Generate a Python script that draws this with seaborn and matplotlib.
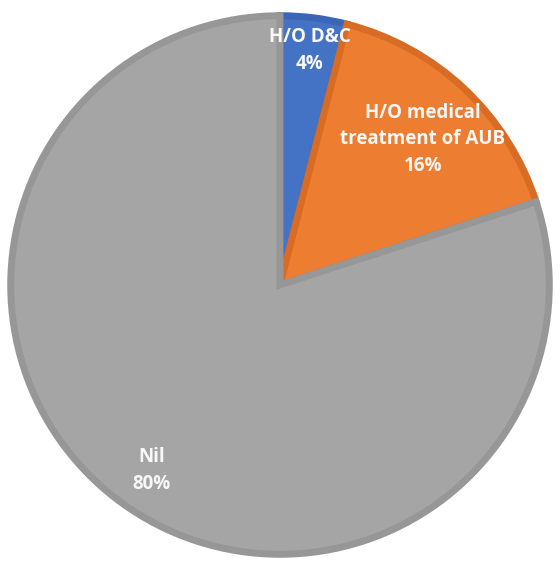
import matplotlib
matplotlib.use("Agg")
import matplotlib.pyplot as plt
import seaborn as sns
import numpy as np

categories = ["H/O D&C", "H/O medical\ntreatment of AUB", "Nil"]
values = [4, 16, 80]
colors = ["#4472C4", "#ED7D31", "#A5A5A5"]
edge_colors = ["#3A66B5", "#D96C25", "#979797"]

sns.set_theme(style="white")
plt.rcParams['font.family'] = ['Open Sans', 'DejaVu Sans']

fig = plt.figure(figsize=(5.6, 5.63), dpi=100)
ax = fig.add_axes([0, 0, 1, 1])

wedges, texts = ax.pie(values, colors=colors, startangle=90, counterclock=False,
                       radius=0.99, center=(0, 0),
                       wedgeprops=dict(linewidth=5, joinstyle="miter"))
for w, ec in zip(wedges, edge_colors):
    w.set_edgecolor(ec)

# label placement (distance and angle from centre, Excel-like best fit)
label_pos = [(0.87, 82.8), (0.75, 45.5), (0.83, 235.3)]
for cat, v, (d, ang) in zip(categories, values, label_pos):
    a = np.deg2rad(ang)
    ax.text(d * np.cos(a), d * np.sin(a), f"{cat}\n{v}%", ha="center", va="center",
            color="#F8F8F8", fontsize=13.5, fontweight="bold", linespacing=1.45)

ax.set_xlim(-280 / 272, 280 / 272)
ax.set_ylim(-278 / 272, 285 / 272)
ax.set_aspect("auto")
ax.axis("off")
fig.savefig("out.png", dpi=100)
